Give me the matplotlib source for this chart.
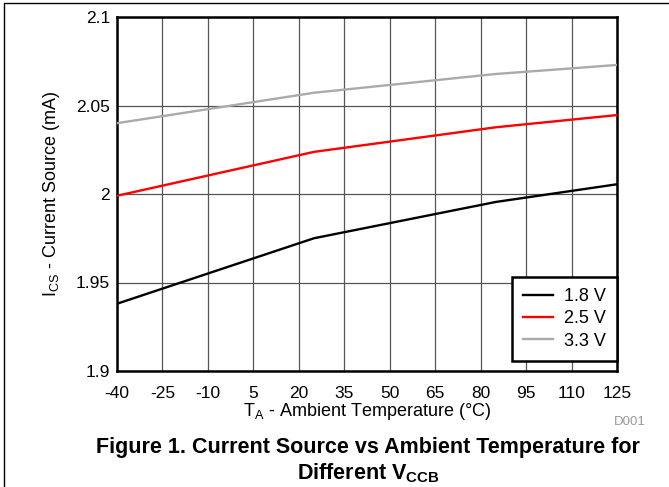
import matplotlib.pyplot as plt
from matplotlib.lines import Line2D

plt.rcParams["font.family"] = ["Liberation Sans", "DejaVu Sans"]
plt.rcParams["axes.unicode_minus"] = False

# ============================================================
# Data
# ============================================================

temps = [-40, 25, 85, 125]

i_18v = [1.938, 1.975, 1.9955, 2.0055]
i_25v = [1.999, 2.0238, 2.0377, 2.0446]
i_33v = [2.040, 2.0572, 2.0678, 2.0729]

labels = ["1.8 V", "2.5 V", "3.3 V"]
colors = ["black", "red", "#aaaaaa"]

x_ticks = list(range(-40, 126, 15))
y_ticks = [1.9, 1.95, 2.0, 2.05, 2.1]
y_tick_labels = ["1.9", "1.95", "2", "2.05", "2.1"]

# ============================================================
# Figure
# ============================================================

fig = plt.figure(figsize=(6.69, 4.87), dpi=100)

ax = fig.add_axes([117 / 669, 1 - 371 / 487, 500 / 669, 354 / 487])

for series, label, color in zip([i_18v, i_25v, i_33v], labels, colors):
    ax.plot(temps, series, color=color, linewidth=1.7, label=label, zorder=3)

ax.set_xlim(-40, 125)
ax.set_ylim(1.9, 2.1)

ax.set_xticks(x_ticks)
ax.set_yticks(y_ticks)
ax.set_yticklabels(y_tick_labels)

ax.tick_params(length=0, labelsize=12.5)
ax.tick_params(axis="x", pad=11)
ax.tick_params(axis="y", pad=5)

ax.grid(True, color="#555555", linewidth=0.9)

for spine in ax.spines.values():
    spine.set_linewidth(1.8)

ax.set_xlabel(r"T$_\mathregular{A}$ - Ambient Temperature (°C)", fontsize=13, labelpad=0)
ax.set_ylabel(r"I$_\mathregular{CS}$ - Current Source (mA)", fontsize=13, labelpad=10)

leg = ax.legend(
    loc="lower right",
    bbox_to_anchor=(1.0, 10 / 354),
    fontsize=13,
    frameon=True,
    fancybox=False,
    borderaxespad=0,
    handlelength=1.65,
    handletextpad=0.6,
    labelspacing=0.3,
    borderpad=0.62,
)
leg.get_frame().set_edgecolor("black")
leg.get_frame().set_linewidth(1.8)
leg.get_frame().set_alpha(1)

fig.text(646 / 669, 1 - 422 / 487, "D001", color="#999999", fontsize=9.5,
         ha="right", va="center")

fig.text(368 / 669, 1 - 447 / 487,
         "Figure 1. Current Source vs Ambient Temperature for",
         fontsize=15.5, fontweight="bold", ha="center", va="center")
fig.text(368 / 669, 1 - 473 / 487,
         r"Different V$_\mathregular{CCB}$",
         fontsize=15.5, fontweight="bold", ha="center", va="center")

# outer frame (top and left edges)
fig.add_artist(Line2D([4 / 669, 4 / 669, 1], [0, 1 - 3 / 487, 1 - 3 / 487],
                      transform=fig.transFigure, color="black", linewidth=1))

fig.savefig("out.png", dpi=100)
